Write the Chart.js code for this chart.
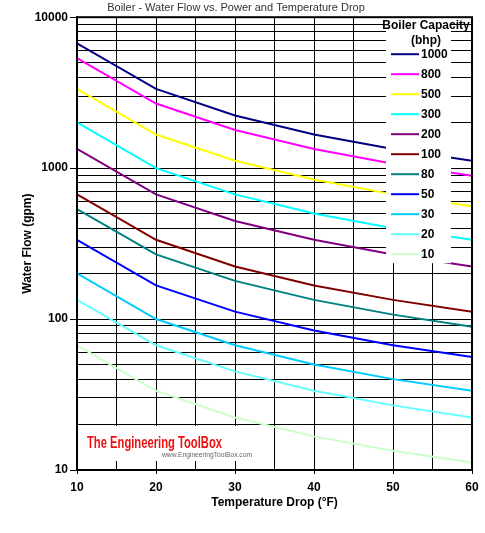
<!DOCTYPE html>
<html>
<head>
<meta charset="utf-8">
<script src="https://cdn.jsdelivr.net/npm/chart.js@4"></script>
<style>
html, body { margin: 0; padding: 0; background: #fff; }
#wrap { width: 485px; height: 533px; }
</style>
</head>
<body>
<div id="wrap"><canvas id="chart" width="485" height="533"></canvas></div>
<script>
// temperature drop (°F) and water flow (gpm)
const temp_drop = [10, 20, 30, 40, 50, 60]
const capacities = ['1000', '800', '500', '300', '200', '100', '80', '50', '30', '20', '10']
const flow_1000 = [6700, 3350, 2230, 1670, 1340, 1120]
const flow_800 = [5360, 2680, 1790, 1340, 1070, 890]
const flow_500 = [3350, 1670, 1120, 840, 670, 560]
const flow_300 = [2010, 1000, 670, 500, 400, 335]
const flow_200 = [1340, 670, 446, 335, 268, 223]
const flow_100 = [670, 335, 223, 167, 134, 112]
const flow_80 = [536, 268, 179, 134, 107, 89]
const flow_50 = [335, 167, 112, 84, 67, 56]
const flow_30 = [201, 100, 67, 50, 40, 33.5]
const flow_20 = [134, 67, 45, 33.5, 26.8, 22.3]
const flow_10 = [67, 33.5, 22.3, 16.7, 13.4, 11.2]
const y_labels = [10, 100, 1000, 10000]

const flows = [flow_1000, flow_800, flow_500, flow_300, flow_200, flow_100, flow_80, flow_50, flow_30, flow_20, flow_10]
const colors = ['#000080', '#ff00ff', '#ffff00', '#00ffff', '#800080', '#800000', '#008080', '#0000ff', '#00ccff', '#66ffff', '#ccffcc']

const FONT = 'Liberation Sans, Arial, sans-serif'

const datasets = capacities.map(function (name, idx) {
	return {
		label: name,
		data: temp_drop.map((t, i) => ({ x: t, y: flows[idx][i] })),
		borderColor: colors[idx],
		backgroundColor: colors[idx],
		borderWidth: 2,
		pointRadius: 0,
		tension: 0,
	}
})

// squeeze a text into a given width
function fit_text (ctx, text, x, y, width) {
	const w = ctx.measureText(text).width
	ctx.save()
	ctx.translate(x, y)
	ctx.scale(width / w, 1)
	ctx.fillText(text, 0, 0)
	ctx.restore()
}

// watermark under the lines, on its own white patch
const watermark = {
	id: 'watermark',
	beforeDatasetsDraw (chart) {
		const { ctx, chartArea } = chart
		const left = chartArea.left
		const bottom = chartArea.bottom
		ctx.save()
		ctx.fillStyle = '#fff'
		ctx.fillRect(left + 1, bottom - 44, 176, 35)
		ctx.textBaseline = 'alphabetic'
		ctx.fillStyle = '#ee1111'
		ctx.font = 'bold 17px ' + FONT
		fit_text(ctx, 'The Engineering ToolBox', left + 10, bottom - 22, 135)
		ctx.fillStyle = '#666'
		ctx.font = '7px ' + FONT
		fit_text(ctx, 'www.EngineeringToolBox.com', left + 85, bottom - 13, 90)
		ctx.restore()
	}
}

// legend box inside the plot, then the frame on top
const legend_box = {
	id: 'legend_box',
	afterDatasetsDraw (chart) {
		const { ctx, chartArea } = chart
		const left = chartArea.right - 86
		const top = chartArea.top
		ctx.save()
		ctx.fillStyle = '#fff'
		ctx.fillRect(left, top, 65, 246)
		ctx.fillStyle = '#000'
		ctx.font = 'bold 12px ' + FONT
		ctx.textAlign = 'center'
		ctx.textBaseline = 'middle'
		ctx.fillText('Boiler Capacity', left + 40, top + 8)
		ctx.fillText('(bhp)', left + 40, top + 23)
		ctx.textAlign = 'left'
		chart.data.datasets.forEach(function (ds, idx) {
			const y = top + 37 + idx * 20
			ctx.strokeStyle = ds.borderColor
			ctx.lineWidth = 2
			ctx.beginPath()
			ctx.moveTo(left + 5, y)
			ctx.lineTo(left + 33, y)
			ctx.stroke()
			ctx.fillStyle = '#000'
			ctx.fillText(ds.label, left + 35, y)
		})
		ctx.strokeStyle = '#000'
		ctx.lineWidth = 2
		ctx.strokeRect(chartArea.left, chartArea.top, chartArea.right - chartArea.left, chartArea.bottom - chartArea.top)
		ctx.restore()
	}
}

const chart = new Chart(document.getElementById('chart').getContext('2d'), {
	type: 'line',
	data: { datasets },
	plugins: [watermark, legend_box],
	options: {
		responsive: false,
		animation: false,
		layout: { padding: { left: 0, right: 13, top: 0, bottom: 0 } },
		plugins: {
			legend: { display: false },
			tooltip: { enabled: false },
			title: {
				display: true,
				text: 'Boiler - Water Flow vs. Power and Temperature Drop',
				color: '#333',
				font: { family: FONT, size: 11, weight: 'normal' },
				padding: { top: 1, bottom: 3 },
			},
		},
		scales: {
			x: {
				type: 'linear',
				min: 10,
				max: 60,
				afterFit (scale) { scale.height = 63 },
				ticks: {
					stepSize: 5,
					autoSkip: false,
					maxRotation: 0,
					padding: 6,
					color: '#000',
					font: { family: FONT, size: 12, weight: 'bold' },
					callback: v => (v % 10 === 0 ? String(v) : ''),
				},
				grid: {
					color: '#000',
					lineWidth: 1,
					tickLength: 4,
					tickColor: c => (c.tick && c.tick.value % 10 === 0 ? '#000' : 'rgba(0,0,0,0)'),
				},
				border: { color: '#000', width: 2 },
				title: {
					display: true,
					text: 'Temperature Drop (°F)',
					color: '#000',
					font: { family: FONT, size: 12, weight: 'bold' },
					padding: { top: 0, bottom: 23 },
				},
			},
			y: {
				type: 'logarithmic',
				min: 10,
				max: 10000,
				afterFit (scale) { scale.width = 77 },
				afterBuildTicks (scale) {
					const ticks = []
					for (let e = 10; e < 10000; e *= 10) {
						for (let s = 1; s < 10; s++) ticks.push({ value: s * e })
					}
					ticks.push({ value: 10000 })
					scale.ticks = ticks
				},
				ticks: {
					autoSkip: false,
					padding: 2,
					color: '#000',
					font: { family: FONT, size: 12, weight: 'bold' },
					callback: v => (y_labels.includes(v) ? String(v) : ''),
				},
				grid: {
					color: '#000',
					lineWidth: 1,
					tickLength: 7,
					tickColor: c => (c.tick && y_labels.includes(c.tick.value) ? '#000' : 'rgba(0,0,0,0)'),
				},
				border: { color: '#000', width: 2 },
				title: {
					display: true,
					text: 'Water Flow (gpm)',
					color: '#000',
					font: { family: FONT, size: 12, weight: 'bold' },
					padding: { top: 20, bottom: 0 },
				},
			},
		},
	},
})
</script>
</body>
</html>
